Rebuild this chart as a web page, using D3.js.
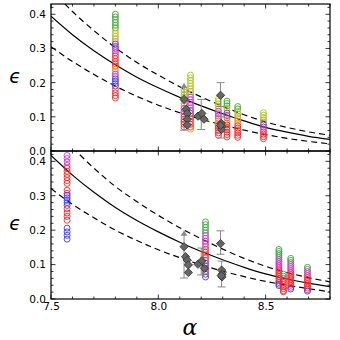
<!DOCTYPE html>
<html>
<head>
<meta charset="utf-8">
<script src="https://cdn.jsdelivr.net/npm/d3@7"></script>
<style>
  body { margin: 0; background: #fff; }
  text { font-family: "DejaVu Sans", sans-serif; }
</style>
</head>
<body>
<svg id="chart" width="340" height="340"></svg>
<script>
// fitted curves at these alpha values
const curveAlpha = [7.5, 7.6, 7.7, 7.8, 7.9, 8.0, 8.1, 8.2, 8.3, 8.4, 8.5, 8.6, 8.7, 8.8];
const topFit   = [0.394, 0.340, 0.293, 0.252, 0.216, 0.185, 0.157, 0.132, 0.109, 0.088, 0.069, 0.055, 0.043, 0.034];
const topUpper = [0.473, 0.408, 0.352, 0.302, 0.259, 0.222, 0.188, 0.158, 0.131, 0.106, 0.085, 0.069, 0.056, 0.046];
const topLower = [0.305, 0.262, 0.224, 0.190, 0.160, 0.134, 0.112, 0.093, 0.076, 0.061, 0.048, 0.037, 0.028, 0.021];
const botFit   = [0.417, 0.360, 0.310, 0.266, 0.228, 0.195, 0.165, 0.138, 0.114, 0.092, 0.073, 0.058, 0.046, 0.036];
const botUpper = [0.500, 0.440, 0.380, 0.327, 0.283, 0.243, 0.207, 0.175, 0.145, 0.118, 0.095, 0.077, 0.062, 0.050];
const botLower = [0.321, 0.275, 0.236, 0.200, 0.170, 0.143, 0.120, 0.099, 0.081, 0.065, 0.051, 0.040, 0.030, 0.021];

// open circles: columns at one alpha, runs of values per colour
const topColumns = [
  {alpha: 7.80, runs: [
    ["g", [0.400, 0.392, 0.384, 0.376, 0.368, 0.360]],
    ["y", [0.352, 0.344, 0.336]],
    ["o", [0.328, 0.320]],
    ["p", [0.313, 0.306, 0.300]],
    ["m", [0.294, 0.287]],
    ["r", [0.278, 0.270, 0.262, 0.255, 0.248]],
    ["or", [0.240, 0.233]],
    ["m", [0.225, 0.218]],
    ["b", [0.211, 0.204, 0.197, 0.190]],
    ["r", [0.180, 0.170, 0.162, 0.155]]]},
  {alpha: 8.12, runs: [
    ["y", [0.180, 0.172, 0.164, 0.156, 0.148]],
    ["o", [0.140, 0.132]],
    ["m", [0.124, 0.116, 0.108]],
    ["r", [0.100, 0.092, 0.085, 0.078, 0.070]]]},
  {alpha: 8.15, runs: [
    ["y", [0.222, 0.214, 0.206, 0.198, 0.190, 0.182]],
    ["o", [0.174, 0.166]],
    ["m", [0.158, 0.150, 0.142, 0.134, 0.126]],
    ["p", [0.118, 0.110]],
    ["r", [0.102, 0.094, 0.086, 0.078, 0.070]],
    ["or", [0.064]]]},
  {alpha: 8.28, runs: [
    ["y", [0.152, 0.145, 0.138, 0.131, 0.124]],
    ["m", [0.116, 0.109, 0.102, 0.095]],
    ["or", [0.088, 0.081]],
    ["r", [0.074, 0.067, 0.060, 0.053, 0.046]]]},
  {alpha: 8.32, runs: [
    ["g", [0.146, 0.139, 0.132]],
    ["y", [0.125, 0.118]],
    ["p", [0.111, 0.104, 0.097]],
    ["or", [0.090, 0.083]],
    ["r", [0.076, 0.069, 0.062, 0.055, 0.048, 0.041]]]},
  {alpha: 8.37, runs: [
    ["g", [0.130, 0.123]],
    ["y", [0.116, 0.109]],
    ["o", [0.102, 0.095]],
    ["or", [0.088, 0.081]],
    ["r", [0.074, 0.067, 0.060, 0.053, 0.046, 0.040]]]},
  {alpha: 8.49, runs: [
    ["y", [0.112, 0.105, 0.098]],
    ["o", [0.091, 0.084]],
    ["p", [0.077, 0.070]],
    ["m", [0.063]],
    ["r", [0.056, 0.049, 0.042, 0.036]]]}
];

const botColumns = [
  {alpha: 7.575, runs: [
    ["m", [0.417, 0.408, 0.398, 0.388]],
    ["r", [0.380, 0.371, 0.362, 0.353, 0.344, 0.336]],
    ["r", [0.316, 0.307]],
    ["b", [0.301, 0.294, 0.287, 0.280, 0.272]],
    ["r", [0.262, 0.250, 0.240, 0.229]],
    ["b", [0.206, 0.195, 0.185, 0.174]]]},
  {alpha: 8.22, runs: [
    ["g", [0.224, 0.216, 0.208, 0.200, 0.192]],
    ["m", [0.184, 0.176, 0.168, 0.160, 0.152]],
    ["r", [0.144, 0.136, 0.128, 0.120, 0.112]],
    ["b", [0.104, 0.096]],
    ["r", [0.088, 0.080]],
    ["b", [0.072, 0.064]]]},
  {alpha: 8.562, runs: [
    ["g", [0.144, 0.138, 0.132, 0.126, 0.120]],
    ["m", [0.114, 0.108, 0.102, 0.096, 0.090]],
    ["r", [0.084, 0.078, 0.072, 0.066, 0.060, 0.054, 0.048]],
    ["b", [0.043, 0.039]]]},
  {alpha: 8.583, runs: [
    ["g", [0.072, 0.066]],
    ["m", [0.060]],
    ["r", [0.054, 0.048, 0.042, 0.036, 0.030, 0.024, 0.021]]]},
  {alpha: 8.617, runs: [
    ["g", [0.118, 0.112, 0.106]],
    ["m", [0.100, 0.094, 0.088, 0.082]],
    ["r", [0.076, 0.070, 0.064, 0.058, 0.052, 0.046, 0.040, 0.034]],
    ["b", [0.029]]]},
  {alpha: 8.695, runs: [
    ["g", [0.092, 0.086]],
    ["m", [0.080, 0.074, 0.068]],
    ["r", [0.062, 0.056, 0.050, 0.044, 0.038, 0.032, 0.027]],
    ["b", [0.023]]]}
];

// grey diamonds [alpha, eps]
const topDiamonds = [[8.12, 0.151], [8.13, 0.122], [8.135, 0.110], [8.135, 0.093], [8.135, 0.076],
  [8.185, 0.102], [8.203, 0.110], [8.213, 0.093],
  [8.29, 0.163], [8.293, 0.081], [8.295, 0.071], [8.295, 0.063], [8.29, 0.075]];
const botDiamonds = [[8.12, 0.152], [8.127, 0.123], [8.135, 0.113], [8.14, 0.099], [8.14, 0.077],
  [8.185, 0.101], [8.203, 0.111], [8.215, 0.089],
  [8.29, 0.161], [8.295, 0.084], [8.297, 0.072], [8.297, 0.064], [8.293, 0.068]];
// error bars [alpha, low, high, arrow on top]
const topErrors = [[8.12, 0.061, 0.198, true], [8.20, 0.063, 0.151, false], [8.29, 0.130, 0.200, false], [8.293, 0.038, 0.100, false]];
const botErrors = [[8.12, 0.061, 0.198, true], [8.20, 0.070, 0.148, false], [8.29, 0.130, 0.198, false], [8.295, 0.035, 0.110, false]];

const yTicks = [0.0, 0.1, 0.2, 0.3, 0.4];
const xTicks = [7.5, 8.0, 8.5];

const palette = {g: "#3aa63a", y: "#aac61e", o: "#b8a830", p: "#7a32c8", m: "#cc33cc",
                 r: "#ff2222", or: "#ff8a10", b: "#3838ff"};

const svg = d3.select("#chart");
const left = 51, right = 330;
const x = d3.scaleLinear().domain([7.5, 8.8]).range([left, right]);

function panel(top, bottom, fit, upper, lower, columns, diamonds, errors, showX, id) {
  const y = d3.scaleLinear().domain([0, 0.43]).range([bottom, top]);
  const g = svg.append("g");

  g.append("clipPath").attr("id", id)
    .append("rect").attr("x", left).attr("y", top).attr("width", right - left).attr("height", bottom - top);
  const plot = g.append("g").attr("clip-path", "url(#" + id + ")");

  const line = d3.line().curve(d3.curveMonotoneX)
    .x(d => x(d[0])).y(d => y(d[1]));
  const pts = arr => curveAlpha.map((a, i) => [a, arr[i]]);

  plot.append("path").attr("d", line(pts(fit)))
    .attr("fill", "none").attr("stroke", "#000").attr("stroke-width", 1.2);
  [upper, lower].forEach(arr => {
    plot.append("path").attr("d", line(pts(arr)))
      .attr("fill", "none").attr("stroke", "#000").attr("stroke-width", 1.2)
      .attr("stroke-dasharray", "6,4");
  });

  // circles
  columns.forEach(col => {
    col.runs.forEach(run => {
      plot.selectAll(null).data(run[1]).enter().append("circle")
        .attr("cx", x(col.alpha)).attr("cy", d => y(d)).attr("r", 3)
        .attr("fill", "none").attr("stroke", palette[run[0]]).attr("stroke-width", 0.9);
    });
  });

  // error bars
  errors.forEach(e => {
    const ex = x(e[0]);
    plot.append("line").attr("x1", ex).attr("x2", ex).attr("y1", y(e[1])).attr("y2", y(e[2]))
      .attr("stroke", "#888").attr("stroke-width", 1);
    plot.append("line").attr("x1", ex - 4).attr("x2", ex + 4).attr("y1", y(e[1])).attr("y2", y(e[1]))
      .attr("stroke", "#888").attr("stroke-width", 1);
    if (e[3]) {
      plot.append("path")
        .attr("d", `M${ex - 3.5},${y(e[2]) + 5}L${ex},${y(e[2])}L${ex + 3.5},${y(e[2]) + 5}Z`)
        .attr("fill", "#888");
    } else {
      plot.append("line").attr("x1", ex - 4).attr("x2", ex + 4).attr("y1", y(e[2])).attr("y2", y(e[2]))
        .attr("stroke", "#888").attr("stroke-width", 1);
    }
  });

  // diamonds
  const diamond = d3.symbol().type(d3.symbolSquare).size(34);
  plot.selectAll(null).data(diamonds).enter().append("path")
    .attr("d", diamond)
    .attr("transform", d => `translate(${x(d[0])},${y(d[1])}) rotate(45)`)
    .attr("fill", "#666").attr("stroke", "#333").attr("stroke-width", 0.8);

  // ticks, inward on all four sides
  const yMinor = d3.range(0, 0.431, 0.02);
  const xMinor = d3.range(7.5, 8.801, 0.1);
  const tk = g.append("g").attr("stroke", "#000").attr("stroke-width", 0.8);
  yMinor.forEach(v => {
    const major = yTicks.some(t => Math.abs(t - v) < 1e-6);
    const len = major ? 4.5 : 2.5;
    tk.append("line").attr("x1", left).attr("x2", left + len).attr("y1", y(v)).attr("y2", y(v));
    tk.append("line").attr("x1", right).attr("x2", right - len).attr("y1", y(v)).attr("y2", y(v));
  });
  xMinor.forEach(v => {
    const major = xTicks.some(t => Math.abs(t - v) < 1e-6);
    const len = major ? 4.5 : 2.5;
    tk.append("line").attr("x1", x(v)).attr("x2", x(v)).attr("y1", bottom).attr("y2", bottom - len);
    tk.append("line").attr("x1", x(v)).attr("x2", x(v)).attr("y1", top).attr("y2", top + len);
  });

  // frame
  g.append("rect").attr("x", left).attr("y", top).attr("width", right - left).attr("height", bottom - top)
    .attr("fill", "none").attr("stroke", "#000").attr("stroke-width", 1.2);

  // y tick labels
  const yAxis = d3.axisLeft(y).tickValues(yTicks).tickFormat(d3.format(".1f")).tickSize(0).tickPadding(5);
  const ya = g.append("g").attr("transform", `translate(${left},0)`).call(yAxis);
  ya.select(".domain").remove();
  ya.selectAll("text").attr("font-size", 10.5).attr("fill", "#000").style("font-family", "DejaVu Sans");

  if (showX) {
    const xAxis = d3.axisBottom(x).tickValues(xTicks).tickFormat(d3.format(".1f")).tickSize(0).tickPadding(4);
    const xa = g.append("g").attr("transform", `translate(0,${bottom})`).call(xAxis);
    xa.select(".domain").remove();
    xa.selectAll("text").attr("font-size", 10.5).attr("fill", "#000").style("font-family", "DejaVu Sans");
  }

  // y label
  g.append("text").attr("x", 15).attr("y", (top + bottom) / 2 + 5)
    .attr("text-anchor", "middle").attr("font-size", 19).attr("font-style", "italic")
    .text("\u03F5");
}

panel(4, 151, topFit, topUpper, topLower, topColumns, topDiamonds, topErrors, false, "clipTop");
panel(151, 299, botFit, botUpper, botLower, botColumns, botDiamonds, botErrors, true, "clipBot");

svg.append("text").attr("x", 190).attr("y", 335)
  .attr("text-anchor", "middle").attr("font-size", 22).attr("font-style", "italic")
  .style("font-family", "DejaVu Serif")
  .text("\u03B1");
</script>
</body>
</html>
